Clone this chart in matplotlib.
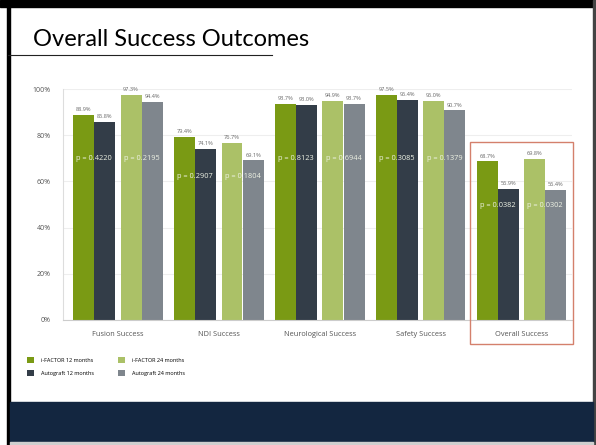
import numpy as np
import matplotlib.pyplot as plt
from matplotlib.patches import Rectangle
from matplotlib.lines import Line2D

categories = ["Fusion Success", "NDI Success", "Neurological Success",
              "Safety Success", "Overall Success"]
ifactor_12 = [88.9, 79.4, 93.7, 97.5, 68.7]
autograft_12 = [85.8, 74.1, 93.0, 95.4, 56.9]
ifactor_24 = [97.3, 76.7, 94.9, 95.0, 69.8]
autograft_24 = [94.4, 69.1, 93.7, 90.7, 56.4]
p_12 = ["0.4220", "0.2907", "0.8123", "0.3085", "0.0382"]
p_24 = ["0.2195", "0.1804", "0.6944", "0.1379", "0.0302"]

series = [
    ("i-FACTOR 12 months", ifactor_12, "#7a9a14", -0.34),
    ("Autograft 12 months", autograft_12, "#333d48", -0.13),
    ("i-FACTOR 24 months", ifactor_24, "#abc167", 0.13),
    ("Autograft 24 months", autograft_24, "#7f868d", 0.34),
]

W, H = 596, 445
fig = plt.figure(figsize=(W / 100, H / 100), dpi=100)
fig.patch.set_facecolor("white")

# slide decorations (pixel coords -> figure fractions)
def px(x, y):
    return x / W, 1 - y / H

fig.patches.append(Rectangle(px(0, 7), 1, 7 / H, transform=fig.transFigure,
                             color="black", zorder=0))
fig.patches.append(Rectangle(px(7, 445), 3 / W, 1, transform=fig.transFigure,
                             color="black", zorder=0))
fig.patches.append(Rectangle(px(593, 445), 2 / W, 1, transform=fig.transFigure,
                             color="#444444", zorder=0))
fig.patches.append(Rectangle(px(10, 442), 583 / W, 40 / H, transform=fig.transFigure,
                             color="#132640", zorder=0))
fig.patches.append(Rectangle(px(10, 445), 583 / W, 3 / H, transform=fig.transFigure,
                             color="#cfcfcf", zorder=0))
fig.lines.append(Line2D([8 / W, 272 / W], [1 - 55 / H, 1 - 55 / H],
                        transform=fig.transFigure, color="#222222", lw=0.8))
fig.text(33 / W, 1 - 40 / H, "Overall Success Outcomes", fontsize=17,
         family="Lato", va="center", ha="left", color="black")

ax = fig.add_axes([63 / W, 1 - 320 / H, (572 - 63) / W, (320 - 89) / H])
ax.set_facecolor("none")
x = np.arange(len(categories))
bw = 0.208
for name, vals, color, off in series:
    bars = ax.bar(x + off, vals, bw, color=color, label=name, zorder=2)
    for b, v in zip(bars, vals):
        ax.text(b.get_x() + b.get_width() / 2, v + 1.2, f"{v:.1f}%",
                ha="center", va="bottom", fontsize=4.1, color="#666666",
                family="Open Sans", clip_on=False)

for i in range(len(categories)):
    cat_min = min(ifactor_12[i], autograft_12[i], ifactor_24[i], autograft_24[i])
    py = min(70, cat_min - 7)
    ax.text(x[i] - 0.235, py, f"p = {p_12[i]}", ha="center", va="center",
            fontsize=5.3, color="#eef2e4", family="Open Sans", zorder=3)
    ax.text(x[i] + 0.235, py, f"p = {p_24[i]}", ha="center", va="center",
            fontsize=5.3, color="#eef2e4", family="Open Sans", zorder=3)

ax.set_xlim(-0.545, 4.5)
ax.set_ylim(0, 100)
ax.set_yticks([0, 20, 40, 60, 80, 100])
ax.set_yticklabels(["0%", "20%", "40%", "60%", "80%", "100%"])
ax.set_xticks(x)
ax.set_xticklabels(categories)
ax.tick_params(length=0, labelsize=5, labelcolor="#555555")
for lab in ax.get_xticklabels() + ax.get_yticklabels():
    lab.set_family("Open Sans")
ax.tick_params(axis="x", pad=8, labelsize=5.3)
ax.tick_params(axis="y", pad=9)
ax.yaxis.grid(True, color="#eeeeee", lw=0.8, zorder=0)
for s in ["top", "right"]:
    ax.spines[s].set_visible(False)
ax.spines["left"].set_color("#dddddd")
ax.spines["bottom"].set_color("#cccccc")
ax.spines["left"].set_linewidth(0.8)
ax.spines["bottom"].set_linewidth(0.8)

# highlight box round the overall group
ax.add_patch(Rectangle((3.49, -10.2), 1.02, 87.2, fill=False,
                       edgecolor="#d4806c", lw=1.0, clip_on=False, zorder=4))

fig.legend(loc="upper left", bbox_to_anchor=(27 / W, 1 - 357 / H), ncol=2,
           frameon=False, prop={"family": "Open Sans", "size": 4},
           handlelength=1.3, handleheight=1.3, handletextpad=1.3,
           labelspacing=1.2, columnspacing=4.2, borderpad=0, borderaxespad=0)

fig.savefig("out.png", dpi=100)
